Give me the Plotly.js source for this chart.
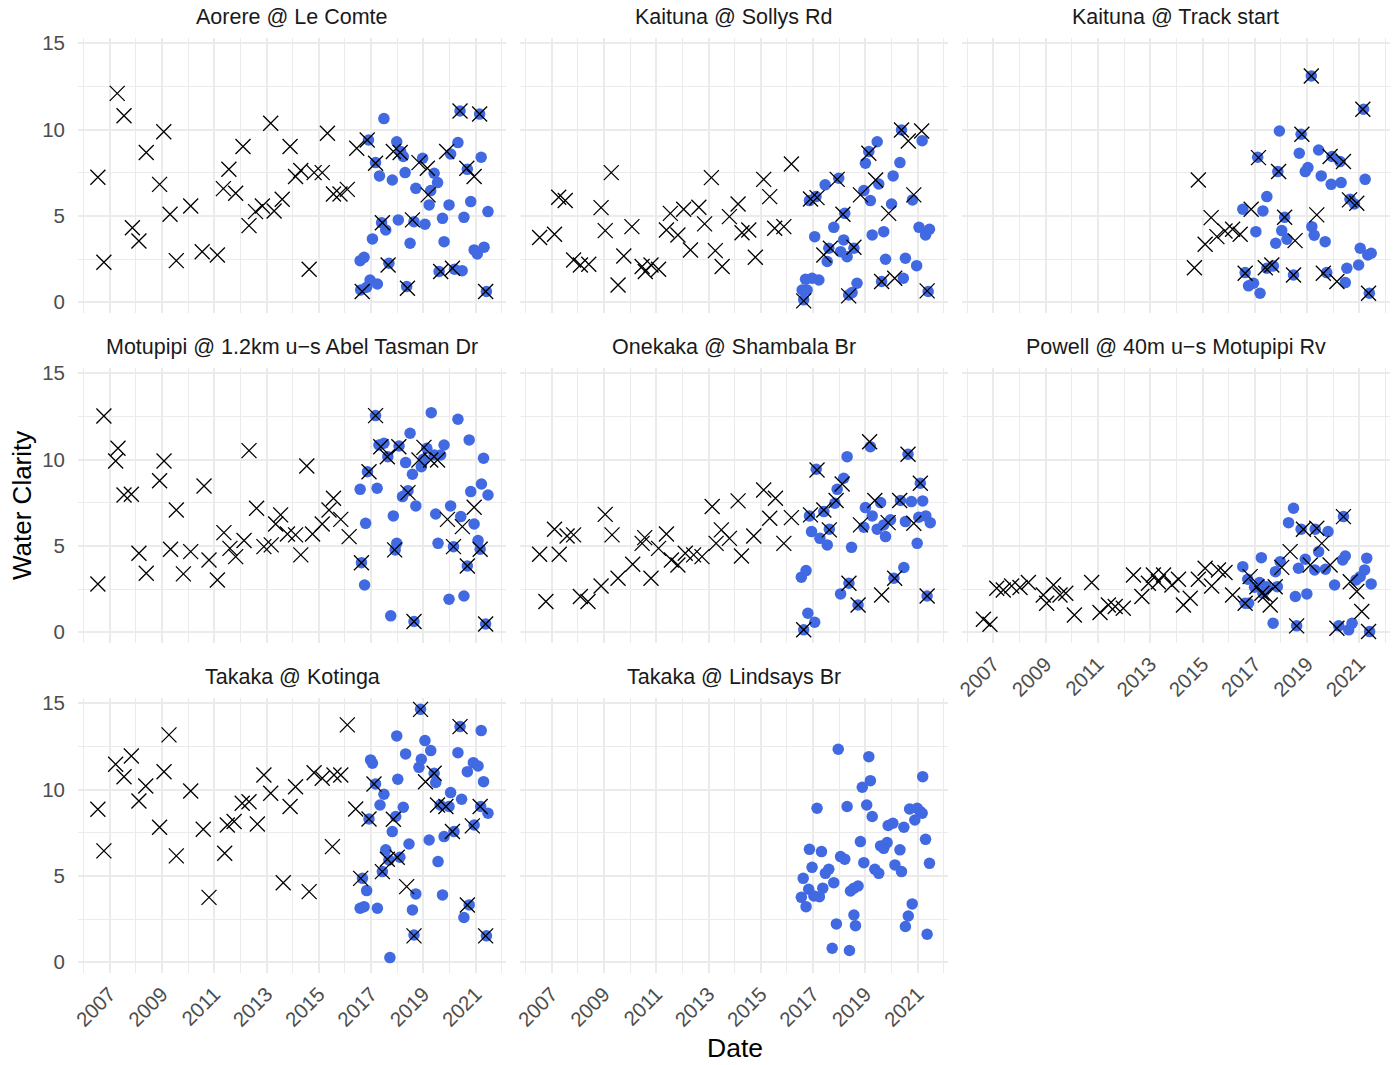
<!DOCTYPE html>
<html><head><meta charset="utf-8">
<script src="https://cdn.plot.ly/plotly-3.0.1.min.js"></script>
<style>html,body{margin:0;padding:0;background:#fff}#chart{width:1395px;height:1065px}</style>
</head><body><div id="chart"></div>
<script>
// ---------- tick labels / categories ----------
const siteNames = ["Aorere @ Le Comte", "Kaituna @ Sollys Rd", "Kaituna @ Track start",
  "Motupipi @ 1.2km u\u2212s Abel Tasman Dr", "Onekaka @ Shambala Br", "Powell @ 40m u\u2212s Motupipi Rv",
  "Takaka @ Kotinga", "Takaka @ Lindsays Br"];
const yearTicks = [2007, 2009, 2011, 2013, 2015, 2017, 2019, 2021];
const yearTickLabels = ["2007", "2009", "2011", "2013", "2015", "2017", "2019", "2021"];
const yearMinor = [2006, 2008, 2010, 2012, 2014, 2016, 2018, 2020, 2022];
const valueTicks = [0, 5, 10, 15];
const valueTickLabels = ["0", "5", "10", "15"];
const valueMinor = [2.5, 7.5, 12.5];

// ---------- data (decimal year, water clarity) ----------
// Aorere @ Le Comte
const aorere_crossDate = [2006.55,2006.78,2007.29,2007.55,2007.87,2008.12,2008.40,2008.91,2009.07,2009.31,2009.55,2010.10,2010.54,2011.12,2011.35,2011.56,2011.82,2012.10,2012.33,2012.58,2012.84,2013.16,2013.29,2013.60,2013.90,2014.11,2014.31,2014.63,2014.82,2015.13,2015.33,2015.56,2015.81,2016.09,2016.45,2016.66,2016.85,2017.17,2017.43,2017.65,2017.85,2018.11,2018.39,2018.58,2018.83,2019.15,2019.18,2019.66,2019.89,2020.11,2020.40,2020.66,2020.94,2021.15,2021.38];
const aorere_crossValue = [7.24,2.32,12.1,10.8,4.32,3.55,8.67,6.83,9.88,5.1,2.41,5.58,2.93,2.74,6.58,7.7,6.31,9.02,4.44,5.25,5.58,10.37,5.29,5.97,9.02,7.28,7.63,1.91,7.51,7.51,9.79,6.27,6.27,6.54,8.92,0.62,9.4,8.05,4.61,2.16,8.73,8.67,0.81,4.77,8.09,7.76,6.22,1.78,8.73,1.97,11.08,7.76,7.28,10.9,0.62];
const aorere_dotDate = [2016.58,2016.73,2016.60,2016.83,2016.96,2017.24,2016.90,2017.05,2017.17,2017.32,2017.49,2017.40,2017.56,2017.68,2017.81,2017.98,2018.04,2018.13,2018.23,2018.30,2018.49,2018.64,2018.71,2018.36,2018.97,2019.06,2019.22,2019.28,2019.41,2019.54,2019.60,2019.73,2019.79,2019.98,2020.04,2020.19,2020.32,2020.40,2020.48,2020.55,2020.81,2020.68,2020.94,2021.06,2021.15,2021.21,2021.32,2021.41,2021.47];
const aorere_dotValue = [2.41,2.6,0.71,0.87,1.29,1.06,9.4,3.67,8.09,7.32,10.64,4.61,4.19,2.26,7.08,9.3,4.77,8.73,8.44,7.51,3.42,4.67,6.6,0.91,8.34,4.52,5.64,6.47,7.47,6.93,1.78,4.86,3.51,5.64,8.59,1.91,9.25,11.08,1.83,4.92,5.83,7.7,3.03,2.8,10.9,8.4,3.19,0.62,5.25];

// Kaituna @ Sollys Rd
const kaitunaSollys_crossDate = [2006.54,2007.11,2007.27,2007.52,2007.84,2008.10,2008.42,2008.89,2009.05,2009.28,2009.54,2009.76,2010.07,2010.46,2010.58,2010.80,2011.09,2011.39,2011.54,2011.83,2012.05,2012.31,2012.63,2012.85,2013.11,2013.26,2013.52,2013.80,2014.13,2014.28,2014.54,2014.79,2015.11,2015.34,2015.53,2015.88,2016.17,2016.64,2016.90,2017.15,2017.41,2017.66,2017.92,2018.14,2018.36,2018.56,2018.81,2019.13,2019.39,2019.62,2019.89,2020.12,2020.38,2020.64,2020.85,2021.15,2021.36];
const kaitunaSollys_crossValue = [3.75,3.94,6.08,5.89,2.45,2.16,2.2,5.48,4.15,7.51,1.0,2.68,4.38,2.07,1.78,2.16,1.91,4.19,5.15,3.9,5.39,3.03,5.5,4.54,7.22,2.99,2.07,4.96,5.69,4.03,4.19,2.61,7.12,6.12,4.29,4.38,8.01,0.08,5.98,6.06,2.74,3.13,7.12,5.1,0.37,3.19,6.22,8.63,7.08,1.2,5.15,1.39,9.98,9.34,6.22,9.92,0.66];
const kaitunaSollys_dotDate = [2016.58,2016.71,2016.77,2016.64,2016.96,2017.22,2016.86,2017.06,2017.11,2017.46,2017.54,2017.60,2017.79,2017.98,2018.05,2018.17,2018.21,2018.30,2018.36,2018.49,2018.68,2018.56,2018.94,2019.00,2019.13,2019.19,2019.26,2019.45,2019.51,2019.70,2019.77,2019.62,2020.00,2020.06,2020.32,2020.45,2020.53,2020.38,2020.80,2020.96,2021.05,2021.17,2021.30,2021.45,2021.40];
const kaitunaSollys_dotValue = [0.71,1.33,0.71,0.14,1.39,1.29,5.89,3.8,6.12,6.8,2.36,3.13,4.34,7.18,2.93,3.61,5.15,2.64,0.42,0.56,1.1,3.13,6.47,8.05,8.73,5.89,3.9,9.3,6.85,4.09,2.49,1.2,5.69,7.32,8.09,1.39,2.55,9.98,5.93,2.12,4.34,9.36,3.9,4.23,0.62];

// Kaituna @ Track start
const kaitunaTrack_crossDate = [2014.69,2014.84,2015.10,2015.33,2015.55,2015.86,2016.15,2016.44,2016.63,2016.86,2017.14,2017.40,2017.65,2017.91,2018.14,2018.48,2018.54,2018.80,2019.16,2019.37,2019.62,2019.88,2020.14,2020.39,2020.62,2020.90,2021.13,2021.35];
const kaitunaTrack_crossValue = [2.0,7.08,3.36,4.9,3.8,4.13,4.23,3.94,1.68,5.39,8.38,2.0,2.16,7.57,4.92,1.58,3.57,9.73,13.11,5.06,1.68,8.44,1.2,8.15,5.93,5.73,11.18,0.52];
const kaitunaTrack_dotDate = [2016.54,2016.63,2016.76,2016.95,2017.04,2017.20,2017.11,2017.31,2017.46,2017.46,2017.71,2017.80,2017.88,2017.94,2018.03,2018.14,2018.23,2018.48,2018.70,2018.77,2018.93,2019.03,2019.16,2019.18,2019.27,2019.44,2019.54,2019.69,2019.75,2019.92,2019.95,2020.30,2020.26,2020.46,2020.52,2020.64,2020.81,2020.97,2021.03,2021.16,2021.22,2021.32,2021.45,2021.38];
const kaitunaTrack_dotValue = [5.39,1.72,0.95,1.1,4.09,0.52,8.4,5.29,6.12,1.97,2.1,3.42,7.57,9.92,4.15,4.92,3.65,1.58,8.63,9.73,7.57,7.8,13.11,4.38,3.88,8.82,7.32,3.51,1.72,6.83,8.44,6.93,8.15,1.14,1.97,5.97,5.69,2.16,3.13,11.18,7.12,2.74,2.84,0.52];

// Motupipi @ 1.2km u-s Abel Tasman Dr
const motupipi_crossDate = [2006.55,2006.78,2007.23,2007.32,2007.55,2007.83,2008.12,2008.40,2008.91,2009.08,2009.33,2009.55,2009.82,2010.10,2010.61,2010.80,2011.12,2011.37,2011.60,2011.82,2012.14,2012.33,2012.62,2012.90,2013.18,2013.35,2013.54,2013.80,2014.11,2014.31,2014.54,2014.76,2015.13,2015.39,2015.56,2015.84,2016.16,2016.63,2016.92,2017.17,2017.37,2017.62,2017.90,2018.06,2018.41,2018.64,2018.83,2019.02,2019.28,2019.54,2019.92,2020.15,2020.49,2020.68,2020.94,2021.17,2021.38];
const motupipi_crossValue = [2.8,12.53,9.92,10.66,7.95,7.99,4.58,3.42,8.78,9.92,4.81,7.08,3.38,4.67,8.47,4.19,3.03,5.77,4.86,4.38,5.31,10.52,7.18,4.96,5.06,6.27,6.8,5.69,5.64,4.48,9.63,5.69,6.27,7.08,7.76,6.54,5.54,4.03,9.3,12.55,10.75,10.17,4.77,10.75,8.09,0.62,9.98,10.71,9.98,9.98,6.54,4.96,6.12,3.84,7.24,4.81,0.48];
const motupipi_dotDate = [2016.58,2016.79,2016.75,2016.63,2016.86,2017.17,2017.23,2017.30,2017.49,2017.64,2017.75,2017.85,2017.98,2017.92,2018.07,2018.20,2018.32,2018.49,2018.41,2018.58,2018.71,2018.64,2018.92,2019.00,2019.13,2019.30,2019.41,2019.47,2019.56,2019.66,2019.79,2019.98,2020.04,2020.15,2020.32,2020.43,2020.55,2020.68,2020.75,2020.81,2020.94,2021.09,2021.17,2021.22,2021.30,2021.47,2021.38];
const motupipi_dotValue = [8.28,6.31,2.74,4.03,9.3,12.55,8.34,10.85,10.95,10.17,0.95,6.74,5.15,4.77,10.79,7.86,9.83,11.53,8.2,9.15,7.32,0.62,9.59,10.02,10.66,12.72,10.27,6.85,5.15,10.27,10.85,1.91,7.32,4.96,12.34,6.7,2.1,3.84,11.14,8.15,6.27,5.31,4.81,8.59,10.08,7.95,0.48];

// Onekaka @ Shambala Br
const onekaka_crossDate = [2006.54,2006.78,2007.11,2007.29,2007.59,2007.84,2008.10,2008.39,2008.89,2009.05,2009.31,2009.54,2010.10,2010.46,2010.56,2010.80,2011.09,2011.39,2011.58,2011.83,2012.11,2012.43,2012.75,2013.14,2013.29,2013.49,2013.80,2014.13,2014.26,2014.73,2015.11,2015.34,2015.56,2015.88,2016.17,2016.64,2016.90,2017.15,2017.41,2017.62,2017.88,2018.11,2018.37,2018.72,2018.81,2019.16,2019.36,2019.62,2019.87,2020.12,2020.31,2020.63,2020.85,2021.10,2021.36];
const onekaka_crossValue = [4.52,1.78,5.97,4.52,5.58,5.64,2.07,1.78,2.68,6.83,5.64,3.13,3.94,5.15,5.48,3.13,4.86,5.69,4.19,3.9,4.58,4.48,4.38,7.28,5.15,5.93,5.44,7.61,4.42,5.58,8.24,6.6,7.76,5.15,6.64,0.14,6.8,9.4,7.08,5.93,7.63,8.59,2.84,1.58,6.22,11.04,7.63,2.16,6.35,3.13,7.63,10.31,6.31,8.63,2.1];
const onekaka_dotDate = [2016.55,2016.73,2016.64,2016.80,2017.06,2016.86,2016.94,2017.12,2017.26,2017.41,2017.54,2017.62,2017.83,2017.92,2018.05,2018.17,2018.30,2018.37,2018.47,2018.72,2018.94,2019.00,2019.19,2019.26,2019.45,2019.58,2019.70,2019.77,2019.96,2020.09,2020.34,2020.47,2020.53,2020.63,2020.76,2020.98,2021.04,2021.10,2021.19,2021.31,2021.48,2021.36];
const onekaka_dotValue = [3.19,3.57,0.14,1.1,0.58,6.74,5.83,9.44,5.44,6.99,5.06,5.97,7.47,8.28,2.22,8.92,10.17,2.84,4.92,1.58,6.08,7.22,10.75,6.74,5.97,7.51,6.22,5.54,6.51,3.13,7.63,3.75,6.41,10.31,7.57,5.15,6.66,8.63,7.61,6.74,6.35,2.1];

// Powell @ 40m u-s Motupipi Rv
const powell_crossDate = [2006.62,2006.87,2007.13,2007.38,2007.70,2008.02,2008.34,2008.91,2009.04,2009.30,2009.55,2009.77,2010.10,2010.76,2011.08,2011.40,2011.66,2011.97,2012.36,2012.68,2012.93,2013.12,2013.31,2013.51,2013.83,2014.08,2014.27,2014.53,2014.84,2015.10,2015.35,2015.61,2015.86,2016.15,2016.63,2016.82,2017.08,2017.27,2017.40,2017.59,2017.78,2018.03,2018.35,2018.60,2018.86,2019.12,2019.37,2019.56,2019.88,2020.14,2020.39,2020.65,2020.90,2021.09,2021.35];
const powell_crossValue = [0.75,0.46,2.55,2.45,2.68,2.59,2.88,2.16,1.68,2.74,2.16,2.26,1.0,2.88,1.14,1.58,1.49,1.39,3.32,2.07,2.84,3.32,2.93,3.32,2.74,3.07,1.58,1.97,3.07,3.71,2.68,3.61,3.46,2.16,1.68,3.22,2.64,2.26,2.16,1.58,2.64,3.76,4.67,0.37,5.97,3.9,6.02,5.15,3.9,0.23,6.7,2.93,2.36,1.2,0.04];
const powell_dotDate = [2016.54,2016.63,2016.73,2016.76,2016.99,2017.18,2017.25,2017.31,2017.44,2017.70,2017.79,2017.86,2017.97,2018.29,2018.48,2018.55,2018.60,2018.67,2018.77,2018.93,2018.99,2019.29,2019.31,2019.44,2019.70,2019.80,2020.05,2020.21,2020.36,2020.39,2020.46,2020.59,2020.72,2020.87,2021.03,2021.20,2021.28,2021.45,2021.39];
const powell_dotValue = [3.8,1.68,3.07,1.68,2.61,2.88,4.32,2.26,2.64,0.52,3.51,2.64,4.09,6.35,7.18,2.07,0.37,3.71,5.97,4.23,2.22,3.61,5.97,4.67,3.65,5.83,2.74,0.37,4.19,6.7,4.42,0.14,0.52,3.03,3.22,3.61,4.29,2.8,0.04];

// Takaka @ Kotinga
const takakaKotinga_crossDate = [2006.55,2006.78,2007.23,2007.55,2007.83,2008.12,2008.38,2008.91,2009.08,2009.27,2009.55,2010.10,2010.58,2010.80,2011.40,2011.50,2011.76,2012.07,2012.33,2012.65,2012.90,2013.16,2013.64,2013.90,2014.11,2014.63,2014.82,2015.13,2015.52,2015.58,2015.84,2016.09,2016.41,2016.60,2016.92,2017.11,2017.43,2017.62,2017.85,2018.00,2018.36,2018.64,2018.89,2019.08,2019.41,2019.54,2019.86,2020.11,2020.40,2020.68,2020.87,2021.17,2021.38];
const takakaKotinga_crossValue = [8.86,6.45,11.47,10.75,11.95,9.34,10.21,7.82,11.04,13.17,6.16,9.92,7.7,3.76,6.31,7.95,8.15,9.21,9.3,8.01,10.85,9.79,4.61,9.02,10.17,4.09,10.98,10.66,6.7,10.85,10.85,13.75,8.88,4.86,8.3,10.33,5.25,5.97,8.28,6.08,4.38,1.53,14.65,10.46,10.95,9.11,9.02,7.57,13.65,3.32,7.9,9.02,1.53];
const takakaKotinga_dotDate = [2016.58,2016.73,2016.67,2016.83,2016.92,2016.98,2017.05,2017.17,2017.24,2017.34,2017.49,2017.43,2017.56,2017.72,2017.68,2017.81,2017.94,2017.98,2018.02,2018.10,2018.23,2018.32,2018.45,2018.58,2018.71,2018.64,2018.83,2018.92,2018.89,2019.06,2019.22,2019.28,2019.41,2019.47,2019.56,2019.64,2019.73,2019.79,2019.98,2020.04,2020.17,2020.32,2020.46,2020.55,2020.40,2020.68,2020.75,2020.91,2020.94,2021.09,2021.21,2021.30,2021.19,2021.47,2021.41];
const takakaKotinga_dotValue = [3.13,3.22,4.86,4.15,8.3,11.72,11.53,10.33,3.13,9.11,9.73,5.25,6.51,0.27,5.93,7.57,8.44,13.11,10.6,6.08,8.98,12.07,6.85,3.03,3.96,1.58,11.29,11.76,14.65,12.84,7.08,12.26,10.95,10.41,5.83,9.11,3.9,7.28,9.02,9.83,7.57,12.14,9.44,2.59,13.65,11.04,3.32,11.56,7.95,11.37,13.42,10.46,9.02,8.63,1.53];

// Takaka @ Lindsays Br
const takakaLindsays_crossDate = [];
const takakaLindsays_crossValue = [];
const takakaLindsays_dotDate = [2016.55,2016.62,2016.73,2016.83,2016.86,2016.96,2017.03,2017.15,2017.24,2017.32,2017.37,2017.47,2017.60,2017.73,2017.79,2017.89,2017.96,2018.05,2018.21,2018.30,2018.39,2018.43,2018.56,2018.56,2018.62,2018.72,2018.81,2018.88,2018.94,2019.05,2019.13,2019.19,2019.26,2019.36,2019.51,2019.58,2019.70,2019.83,2019.87,2020.05,2020.13,2020.32,2020.38,2020.47,2020.53,2020.64,2020.69,2020.79,2020.89,2020.98,2021.10,2021.17,2021.19,2021.30,2021.36,2021.45];
const takakaLindsays_dotValue = [3.76,4.86,3.22,4.23,6.54,5.5,3.84,8.92,3.8,6.41,4.29,5.15,5.39,0.81,4.61,2.22,12.34,6.12,5.97,9.02,0.68,4.13,4.29,2.74,2.12,4.42,6.99,10.14,5.77,9.11,11.91,10.52,8.44,5.39,5.15,6.74,6.6,6.93,7.92,8.05,5.64,6.51,5.25,7.82,2.07,2.68,8.88,3.38,8.24,8.92,8.73,8.63,10.75,7.12,1.62,5.73];

const crossDates = [aorere_crossDate, kaitunaSollys_crossDate, kaitunaTrack_crossDate, motupipi_crossDate, onekaka_crossDate, powell_crossDate, takakaKotinga_crossDate, takakaLindsays_crossDate];
const crossValues = [aorere_crossValue, kaitunaSollys_crossValue, kaitunaTrack_crossValue, motupipi_crossValue, onekaka_crossValue, powell_crossValue, takakaKotinga_crossValue, takakaLindsays_crossValue];
const dotDates = [aorere_dotDate, kaitunaSollys_dotDate, kaitunaTrack_dotDate, motupipi_dotDate, onekaka_dotDate, powell_dotDate, takakaKotinga_dotDate, takakaLindsays_dotDate];
const dotValues = [aorere_dotValue, kaitunaSollys_dotValue, kaitunaTrack_dotValue, motupipi_dotValue, onekaka_dotValue, powell_dotValue, takakaKotinga_dotValue, takakaLindsays_dotValue];

// ---------- layout ----------
const W = 1395, H = 1065;
const colPx = [[78, 506.3], [520, 948.3], [961.7, 1390]];
const rowPx = [[38.3, 313.3], [368.3, 643.3], [698.3, 973.3]];
const xRange = [2005.79, 2022.17];
const yRange = [-0.64, 15.29];
const FONT = '"Liberation Sans", Arial, Helvetica, sans-serif';
const GRID = '#EBEBEB';

const traces = [];
const layout = {
  width: W, height: H,
  margin: {l: 0, r: 0, t: 0, b: 0, autoexpand: false},
  paper_bgcolor: '#FFFFFF', plot_bgcolor: '#FFFFFF',
  showlegend: false,
  font: {family: FONT},
  annotations: []
};

siteNames.forEach((name, i) => {
  const r = Math.floor(i / 3), c = i % 3;
  const n = i + 1;
  const xk = 'xaxis' + (n === 1 ? '' : n), yk = 'yaxis' + (n === 1 ? '' : n);
  const xa = 'x' + (n === 1 ? '' : n), ya = 'y' + (n === 1 ? '' : n);
  const showX = (i >= 5);
  const showY = (c === 0);
  layout[xk] = {
    domain: [colPx[c][0] / W, colPx[c][1] / W], anchor: ya,
    range: xRange, tickmode: 'array', tickvals: yearTicks, ticktext: yearTickLabels,
    showticklabels: showX, tickangle: -45, ticks: '',
    tickfont: {family: FONT, size: 20.5, color: '#4D4D4D'},
    showgrid: true, gridcolor: GRID, gridwidth: 2,
    minor: {tickmode: 'array', tickvals: yearMinor, showgrid: true, gridcolor: GRID, gridwidth: 1, ticks: ''},
    zeroline: false, showline: false, automargin: false, fixedrange: true,
    ticklabelstandoff: 4
  };
  layout[yk] = {
    domain: [1 - rowPx[r][1] / H, 1 - rowPx[r][0] / H], anchor: xa,
    range: yRange, tickmode: 'array', tickvals: valueTicks, ticktext: valueTickLabels,
    showticklabels: showY, ticks: '',
    tickfont: {family: FONT, size: 20.5, color: '#4D4D4D'},
    showgrid: true, gridcolor: GRID, gridwidth: 2,
    minor: {tickmode: 'array', tickvals: valueMinor, showgrid: true, gridcolor: GRID, gridwidth: 1, ticks: ''},
    zeroline: false, showline: false, automargin: false, fixedrange: true,
    ticklabelstandoff: 12
  };
  traces.push({
    type: 'scatter', mode: 'markers', x: dotDates[i], y: dotValues[i], xaxis: xa, yaxis: ya,
    marker: {symbol: 'circle', size: 11.5, color: '#4169E1', line: {width: 0}},
    hoverinfo: 'skip', cliponaxis: false
  });
  traces.push({
    type: 'scatter', mode: 'markers', x: crossDates[i], y: crossValues[i], xaxis: xa, yaxis: ya,
    marker: {symbol: 'x-thin-open', size: 15, color: '#000000', line: {width: 1.3, color: '#000000'}},
    hoverinfo: 'skip', cliponaxis: false
  });
  layout.annotations.push({
    text: name, xref: 'paper', yref: 'paper',
    x: (colPx[c][0] + colPx[c][1]) / 2 / W, y: 1 - (rowPx[r][0] - 21) / H,
    xanchor: 'center', yanchor: 'middle', showarrow: false,
    font: {family: FONT, size: 21.5, color: '#1A1A1A'}
  });
});

layout.annotations.push({
  text: 'Water Clarity', xref: 'paper', yref: 'paper', x: 22 / W, y: 1 - 506 / H,
  xanchor: 'center', yanchor: 'middle', textangle: -90, showarrow: false,
  font: {family: FONT, size: 26, color: '#000000'}
});
layout.annotations.push({
  text: 'Date', xref: 'paper', yref: 'paper', x: 734.5 / W, y: 1 - 1048 / H,
  xanchor: 'center', yanchor: 'middle', showarrow: false,
  font: {family: FONT, size: 26.5, color: '#000000'}
});

Plotly.newPlot('chart', traces, layout, {displayModeBar: false, staticPlot: true});
</script>
</body></html>
